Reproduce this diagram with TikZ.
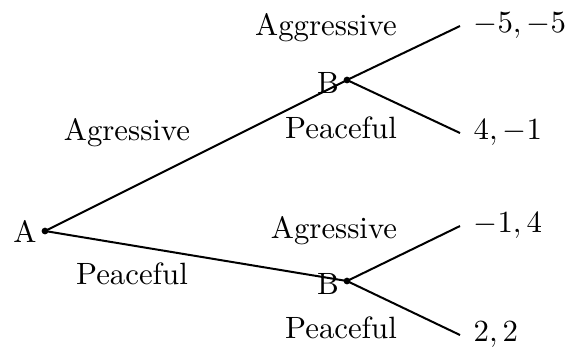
\documentclass[tikz,border=0pt]{standalone}
\begin{document}
\begin{tikzpicture}[x=0.01141cm,y=-0.01141cm,
  edge/.style={line width=0.65pt},
  dot/.style={circle,fill=black,inner sep=0pt,minimum size=2.2pt},
  lbl/.style={inner sep=0pt}]
\useasboundingbox (0,0) rectangle (574,348);
\node[dot] (A) at (45,231) {};
\node[dot] (B1) at (347,80) {};
\node[dot] (B2) at (347,281) {};
\coordinate (e1) at (460,26);
\coordinate (e2) at (460,133);
\coordinate (e3) at (460,226);
\coordinate (e4) at (460,335);
\draw[edge] (A.center) -- (B1.center);
\draw[edge] (A.center) -- (B2.center);
\draw[edge] (B1.center) -- (e1);
\draw[edge] (B1.center) -- (e2);
\draw[edge] (B2.center) -- (e3);
\draw[edge] (B2.center) -- (e4);
\node[lbl,anchor=east] (lA) at (37,231) {A};
\node[lbl] (lB1) at (328,83) {B};
\node[lbl] (lB2) at (328,284) {B};
\node[lbl] (t1) at (326,28) {Aggressive};
\node[lbl] (t2) at (341,128) {Peaceful};
\node[lbl] (t3) at (127,133) {Agressive};
\node[lbl] (t4) at (132,274) {Peaceful};
\node[lbl] (t5) at (334,231) {Agressive};
\node[lbl] (t6) at (341,328) {Peaceful};
\node[lbl,anchor=west] (p1) at (473,26) {$-5,-5$};
\node[lbl,anchor=west] (p2) at (473,133) {$4,-1$};
\node[lbl,anchor=west] (p3) at (473,226) {$-1,4$};
\node[lbl,anchor=west] (p4) at (473,335) {$2,2$};
\end{tikzpicture}
\end{document}
